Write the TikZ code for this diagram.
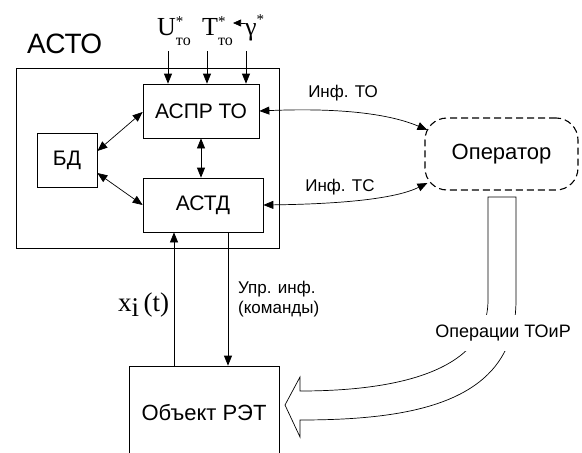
\documentclass[tikz,border=0pt]{standalone}
\usepackage{fontspec}
\setmainfont{Liberation Sans}
\newfontfamily\serif{Liberation Serif}
\usetikzlibrary{arrows.meta,calc}
\newcommand\supsub[2]{\rlap{\raisebox{0.33em}{\fontsize{15}{15}\selectfont #1}}\raisebox{-0.4em}{\fontsize{16}{16}\selectfont #2}}
\begin{document}
\begin{tikzpicture}[x=1pt,y=-1pt,
  blk/.style={draw,line width=0.7pt,inner sep=0pt,font=\fontsize{21}{21}\selectfont},
  lbl/.style={inner sep=0pt},
  arr/.style={-{Triangle[length=10pt,width=8pt]},line width=0.7pt},
  darr/.style={{Triangle[length=10pt,width=8pt]}-{Triangle[length=10pt,width=8pt]},line width=0.7pt},
  sarr/.style={-{Triangle[length=8pt,width=7pt]},line width=0.7pt},
  serlbl/.style={inner sep=0pt,anchor=base west,font=\serif\fontsize{26}{26}\selectfont}]
\clip (0,0) rectangle (582,453);
\fill[white] (0,0) rectangle (582,453);

% outer system box and label
\node[blk,minimum width=263pt,minimum height=180pt] (asto) at (147.5,158) {};
\node[lbl,anchor=base west,font=\fontsize{28}{28}\selectfont] (astol) at (27,53) {АСТО};

% inner blocks
\node[blk,minimum width=116pt,minimum height=54pt] (aspr) at (201,111) {АСПР ТО};
\node[blk,minimum width=120pt,minimum height=54pt] (astd) at (203,205) {АСТД};
\node[blk,minimum width=60pt,minimum height=54pt] (bd) at (67,160) {БД};
\node[blk,minimum width=150pt,minimum height=94pt,font=\fontsize{22}{22}\selectfont] (obj) at (204,413) {Объект РЭТ};
\node[draw,dash pattern=on 7pt off 4pt,rounded corners=22pt,minimum width=153pt,minimum height=72pt,
      line width=1.1pt,font=\fontsize{22}{22}\selectfont] (oper) at (501.5,154) {Оператор};

% top inputs
\node[serlbl] (lu) at (157,35) {U\supsub{*}{то}};
\node[serlbl] (lt) at (202,35) {T\supsub{*}{то}};
\node[serlbl] (lg) at (245,35) {γ\raisebox{0.4em}{\fontsize{15}{15}\selectfont *}};
\coordinate (gs) at (245,23);
\draw[sarr] (lg.west |- gs) -- (lt.east |- gs);
\coordinate (u1) at (168,51);
\coordinate (u2) at (207,51);
\coordinate (u3) at (246,51);
\draw[arr] (u1) -- (u1 |- aspr.north);
\draw[arr] (u2) -- (u2 |- aspr.north);
\draw[arr] (u3) -- (u3 |- aspr.north);

% internal connections
\draw[darr] ($(bd.east)+(0,-9)$) -- ($(aspr.west)+(0,1)$);
\draw[darr] ($(bd.east)+(0,13)$) -- (astd.west);
\draw[darr] (aspr.south) -- (aspr.south |- astd.north);

% information to/from operator
\draw[darr] (aspr.east) .. controls (330,108) and (385,112) .. ($(oper.west)+(3,-24)$);
\draw[darr] (astd.east) .. controls (340,204) and (395,199) .. ($(oper.west)+(3,29)$);
\node[lbl,font=\fontsize{17}{17}\selectfont] (ito) at (343,93) {Инф. ТО};
\node[lbl,font=\fontsize{17}{17}\selectfont] (itc) at (340,187) {Инф. ТС};

% object connections
\draw[arr] ([xshift=-30pt]obj.north) -- ([xshift=-29pt]astd.south);
\draw[arr] ([xshift=25pt]astd.south) -- ([xshift=24pt]obj.north);
\node[lbl,serlbl,font=\serif\fontsize{27}{27}\selectfont] (lx) at (118,311) {x\raisebox{-0.22em}{i}\,(t)};
\node[lbl,anchor=north west,align=left,font=\fontsize{17}{20}\selectfont] (upr) at (238,281) {Упр. инф.\\(команды)};

% big hollow arrow
\draw[line width=0.7pt] (488,300) -- (488,197) -- (516,197) -- (516,300)
  .. controls (516,400) and (420,420) .. (300,420) -- (300,437) -- (285,405) -- (300,377) -- (300,391)
  .. controls (400,391) and (488,370) .. (488,300);
\node[fill=white,inner xsep=2pt,inner ysep=10pt,font=\fontsize{18}{18}\selectfont] (ops) at (503,333) {Операции ТОиР};
\end{tikzpicture}
\end{document}
